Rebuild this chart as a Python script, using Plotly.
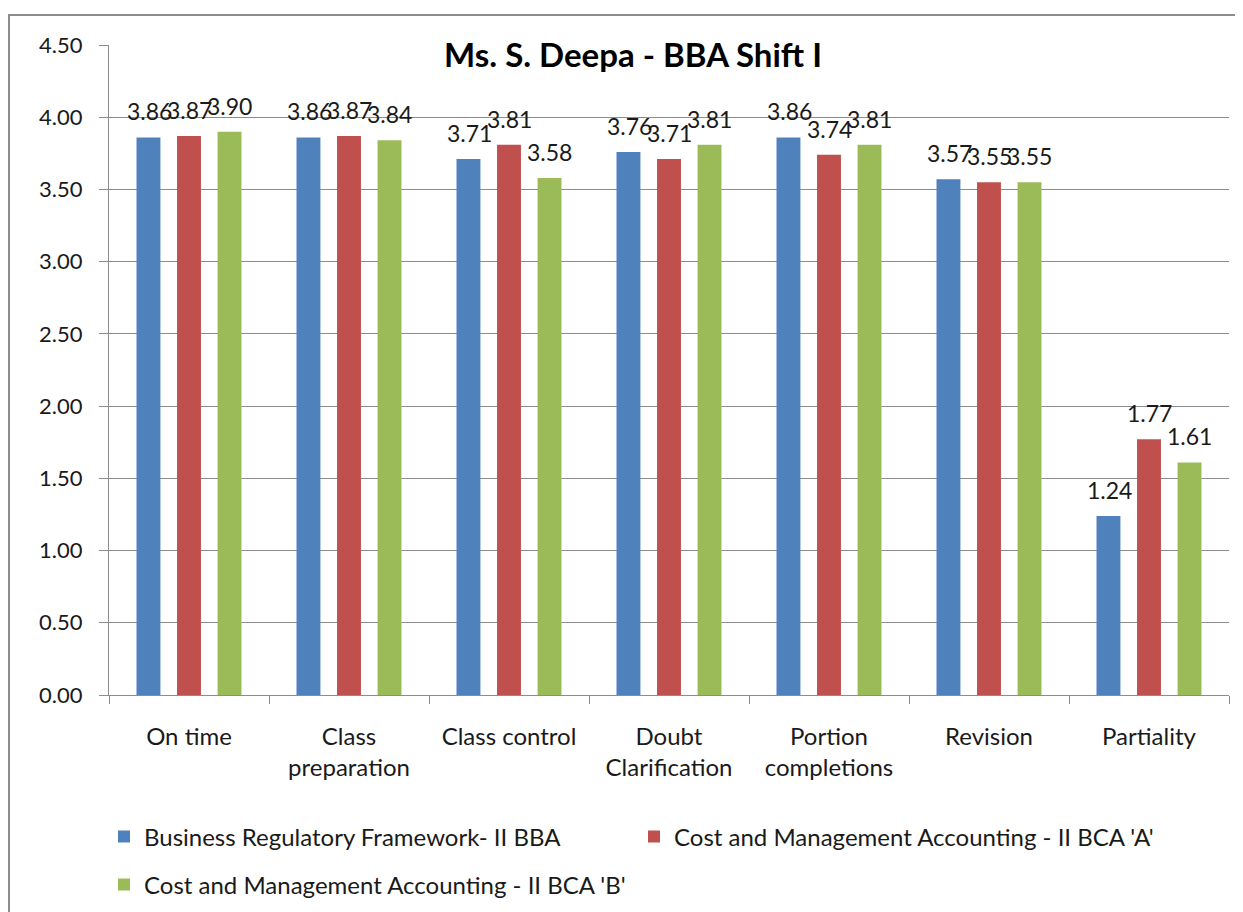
import plotly.graph_objects as go

categories = ['On time', 'Class<br>preparation', 'Class control', 'Doubt<br>Clarification',
              'Portion<br>completions', 'Revision', 'Partiality']
brf_bba = [3.86, 3.86, 3.71, 3.76, 3.86, 3.57, 1.24]
cma_bca_a = [3.87, 3.87, 3.81, 3.71, 3.74, 3.55, 1.77]
cma_bca_b = [3.90, 3.84, 3.58, 3.81, 3.81, 3.55, 1.61]
series_names = ["Business Regulatory Framework- II BBA",
                "Cost and Management Accounting - II BCA 'A'",
                "Cost and Management Accounting - II BCA 'B'"]
colors = ['#4F81BD', '#C0504D', '#9BBB59']
legend_ids = ['legend', 'legend', 'legend2']
label_xshift = [-40, 0, 40]  # pixel offset of each bar within its group

FONT = 'Lato, Noto Sans, sans-serif'

fig = go.Figure()
for name, vals, col, lg, xs in zip(series_names, [brf_bba, cma_bca_a, cma_bca_b], colors,
                                   legend_ids, label_xshift):
    fig.add_trace(go.Bar(
        x=categories, y=vals, name=name, legend=lg,
        marker=dict(color=col, line=dict(width=0)),
    ))
    # value labels sit a little above the bar tops like Excel does
    for c, v in zip(categories, vals):
        fig.add_annotation(x=c, y=v, text=f'{v:.2f}', showarrow=False,
                           xshift=xs, yshift=10, yanchor='bottom',
                           font=dict(family=FONT, size=23, color='#1a1a1a'))

# page renders with ~8px body offset, so layout is computed in figure coords
DX, DY = 8, 7
W, H = 1243, 912
L = 109 - DX
T = 44 - DY
R = W - (1229 - DX)
B = H - (694 - DY)
pw = W - L - R
ph = H - T - B


def px_x(x):
    return (x - DX - L) / pw


def px_y(y):
    return 1 - (y - DY - T) / ph


legend_font = dict(family=FONT, size=24, color='#1a1a1a')
fig.update_layout(
    width=W, height=H,
    margin=dict(l=L, r=R, t=T, b=B, autoexpand=False),
    paper_bgcolor='white', plot_bgcolor='white',
    barmode='group', bargap=0.24, bargroupgap=0.41,
    font=dict(family=FONT, size=20, color='#1a1a1a'),
    title=dict(text='<b>Ms. S. Deepa - BBA Shift I</b>', x=(633 - DX) / W, xanchor='center',
               y=1 - (54 - DY) / H, yanchor='middle',
               font=dict(family=FONT, size=33, color='#000000')),
    legend=dict(orientation='h', x=px_x(104), xanchor='left',
                y=px_y(836), yanchor='middle',
                entrywidth=485, entrywidthmode='pixels',
                font=legend_font, itemsizing='constant'),
    legend2=dict(orientation='h', x=px_x(104), xanchor='left',
                 y=px_y(884), yanchor='middle',
                 font=legend_font, itemsizing='constant'),
    showlegend=True,
)
fig.update_yaxes(
    range=[0, 4.5], dtick=0.5, tickformat='.2f',
    showgrid=True, gridcolor='#8c8c8c', gridwidth=1,
    showline=True, linecolor='#8c8c8c', linewidth=1,
    ticks='outside', ticklen=9, tickcolor='#8c8c8c',
    ticklabelstandoff=12,
    tickfont=dict(family=FONT, size=22, color='#1a1a1a'),
    zeroline=False,
)
fig.update_xaxes(
    showline=True, linecolor='#8c8c8c', linewidth=1,
    ticks='outside', ticklen=8, tickcolor='#8c8c8c', tickson='boundaries',
    ticklabelstandoff=20,
    tickfont=dict(family=FONT, size=24, color='#1a1a1a'),
    showgrid=False,
)
# outer chart border
fig.add_shape(type='rect', xref='paper', yref='paper',
              x0=px_x(9), x1=px_x(W + 20),
              y0=px_y(H + 20), y1=px_y(14),
              line=dict(color='#8c8c8c', width=2), fillcolor='rgba(0,0,0,0)', layer='below')

fig.write_html('out.html')
